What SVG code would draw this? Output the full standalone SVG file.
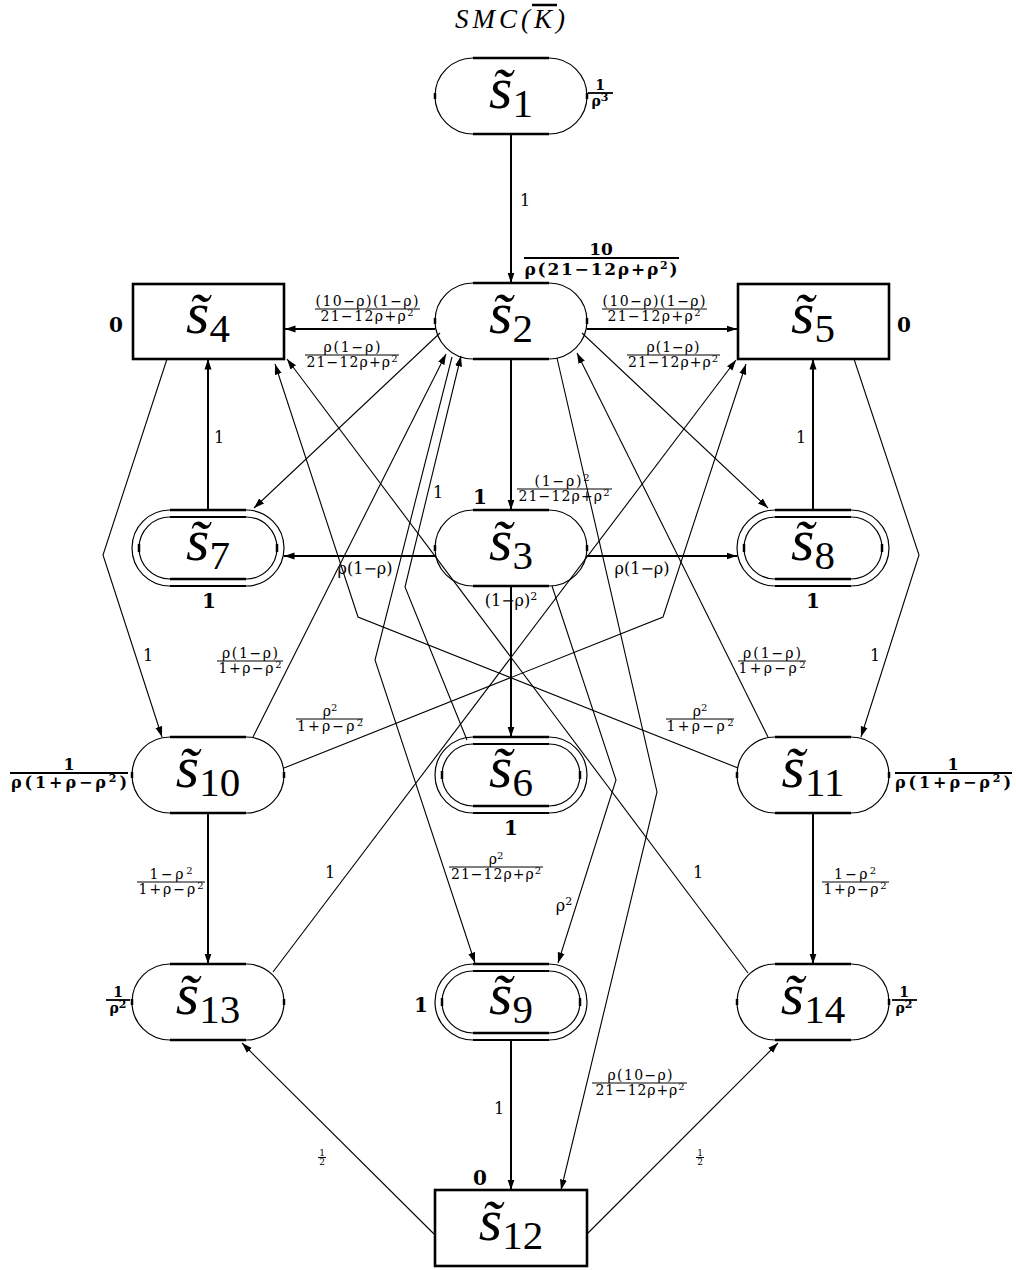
<svg xmlns="http://www.w3.org/2000/svg" width="1016" height="1270" viewBox="0 0 1016 1270">
<defs>
<marker id="ah" markerWidth="11" markerHeight="8" refX="10.5" refY="4" orient="auto" markerUnits="userSpaceOnUse"><path d="M0,0.5 L10.5,4 L0,7.5 z" fill="#000"/></marker>
</defs>
<style>
.e{fill:none;stroke:#000;stroke-width:1.1;marker-end:url(#ah)}
.t{stroke-width:2}
.st{fill:none;stroke:#000;stroke-width:1.2}
.box{fill:none;stroke:#000;stroke-width:2.6}
.seg{stroke:#000;stroke-width:2.6}
.seg2{stroke:#000;stroke-width:1.8}
.tick{stroke:#000;stroke-width:2.5}
.nl{font-family:"Liberation Serif",serif;font-size:60px;font-style:italic;text-anchor:middle}
.sub{font-style:normal;font-size:41px}
.fr text{font-family:"DejaVu Serif",serif;font-size:14px;text-anchor:middle}
.fr line{stroke:#000;stroke-width:1}
.sp{font-size:10px}
.bf text{font-family:"DejaVu Serif",serif;font-weight:bold;text-anchor:middle}
.bf line{stroke:#000;stroke-width:1.8}
.bsp{font-size:11px}
.el{font-family:"DejaVu Serif",serif;font-size:16px;text-anchor:middle}
.esp{font-size:11px}
.bv{font-family:"DejaVu Serif",serif;font-size:20px;font-weight:bold;text-anchor:middle}
</style>
<rect width="1016" height="1270" fill="#fff"/>

<g id="title">
<text x="510" y="28" font-family="Liberation Serif, serif" font-style="italic" font-size="27" text-anchor="middle" textLength="110">SMC(K)</text>
<line x1="532" y1="5" x2="557" y2="5" stroke="#000" stroke-width="2.5"/>
</g>

<g id="edges">
<path class="e t" d="M511,134 L511,283"/>
<path class="e t" d="M435,329 L285,329"/>
<path class="e t" d="M587,329 L737,329"/>
<path class="e" d="M440,333 L254,508"/>
<path class="e" d="M582,333 L768,508"/>
<path class="e t" d="M511,359 L511,510"/>
<path class="e t" d="M435,556 L284,556"/>
<path class="e t" d="M587,556 L737,556"/>
<path class="e t" d="M511,586 L511,737"/>
<path class="e t" d="M208,510 L208,359"/>
<path class="e t" d="M813,510 L813,359"/>
<path class="e" d="M167,359 L103,555 L162,737"/>
<path class="e" d="M854,359 L919,555 L861,737"/>
<path class="e" d="M253,737 L446,354"/>
<path class="e" d="M768,737 L577,353"/>
<path class="e" d="M284,768 L663,617 L746,364"/>
<path class="e" d="M738,768 L358,617 L275,364"/>
<path class="e" d="M273,972 L736,360"/>
<path class="e" d="M748,973 L287,359"/>
<path class="e" d="M452,357 L375,660 L475,963"/>
<path class="e" d="M467,740 L405,587 L461,356"/>
<path class="e" d="M552,586 L616,780 L558,963"/>
<path class="e" d="M557,358 L657,792 L561,1190"/>
<path class="e t" d="M511,1040 L511,1190"/>
<path class="e t" d="M208,813 L208,964"/>
<path class="e t" d="M813,813 L813,964"/>
<path class="e" d="M434,1234 L242,1043"/>
<path class="e" d="M587,1234 L778,1043"/>
</g>

<g id="edge-labels">
<text class="el" x="525" y="206">1</text>
<text class="el" x="219" y="443">1</text>
<text class="el" x="801" y="443">1</text>
<text class="el" x="148" y="661">1</text>
<text class="el" x="875" y="661">1</text>
<text class="el" x="438" y="498">1</text>
<text class="el" x="330" y="878">1</text>
<text class="el" x="698" y="878">1</text>
<text class="el" x="499" y="1114">1</text>
<text class="el" x="365" y="574">ρ(1−ρ)</text>
<text class="el" x="642" y="574">ρ(1−ρ)</text>
<text class="el" x="511" y="606">(1−ρ)<tspan class="esp" dy="-6">2</tspan></text>
<text class="el" x="564" y="911">ρ<tspan class="esp" dy="-6">2</tspan></text>
<g class="fr"><text x="367" y="306" textLength="103">(10−ρ)(1−ρ)</text><line x1="315" y1="309" x2="420" y2="309"/><text x="367" y="321" textLength="93">21−12ρ+ρ<tspan class="sp" dy="-5">2</tspan></text></g>
<g class="fr"><text x="654" y="306" textLength="103">(10−ρ)(1−ρ)</text><line x1="602" y1="309" x2="707" y2="309"/><text x="654" y="321" textLength="93">21−12ρ+ρ<tspan class="sp" dy="-5">2</tspan></text></g>
<g class="fr"><text x="352" y="352" textLength="57">ρ(1−ρ)</text><line x1="305" y1="355" x2="399" y2="355"/><text x="352" y="367" textLength="91">21−12ρ+ρ<tspan class="sp" dy="-5">2</tspan></text></g>
<g class="fr"><text x="673" y="352" textLength="53">ρ(1−ρ)</text><line x1="627" y1="355" x2="720" y2="355"/><text x="673" y="367" textLength="90">21−12ρ+ρ<tspan class="sp" dy="-5">2</tspan></text></g>
<g class="fr"><text x="562" y="486" textLength="55">(1−ρ)<tspan class="sp" dy="-5">2</tspan></text><line x1="517" y1="489" x2="612" y2="489"/><text x="564" y="501" textLength="91">21−12ρ+ρ<tspan class="sp" dy="-5">2</tspan></text></g>
<g class="fr"><text x="250" y="658" textLength="56">ρ(1−ρ)</text><line x1="217" y1="661" x2="283" y2="661"/><text x="250" y="673" textLength="63">1+ρ−ρ<tspan class="sp" dy="-5">2</tspan></text></g>
<g class="fr"><text x="772" y="658" textLength="58">ρ(1−ρ)</text><line x1="738" y1="661" x2="806" y2="661"/><text x="772" y="673" textLength="67">1+ρ−ρ<tspan class="sp" dy="-5">2</tspan></text></g>
<g class="fr"><text x="330" y="716">ρ<tspan class="sp" dy="-5">2</tspan></text><line x1="296" y1="719" x2="363" y2="719"/><text x="330" y="731" textLength="66">1+ρ−ρ<tspan class="sp" dy="-5">2</tspan></text></g>
<g class="fr"><text x="700" y="716">ρ<tspan class="sp" dy="-5">2</tspan></text><line x1="666" y1="719" x2="734" y2="719"/><text x="700" y="731" textLength="67">1+ρ−ρ<tspan class="sp" dy="-5">2</tspan></text></g>
<g class="fr"><text x="171" y="879" textLength="43">1−ρ<tspan class="sp" dy="-5">2</tspan></text><line x1="137" y1="882" x2="205" y2="882"/><text x="171" y="894" textLength="65">1+ρ−ρ<tspan class="sp" dy="-5">2</tspan></text></g>
<g class="fr"><text x="855" y="879" textLength="42">1−ρ<tspan class="sp" dy="-5">2</tspan></text><line x1="822" y1="882" x2="889" y2="882"/><text x="855" y="894" textLength="63">1+ρ−ρ<tspan class="sp" dy="-5">2</tspan></text></g>
<g class="fr"><text x="496" y="864">ρ<tspan class="sp" dy="-5">2</tspan></text><line x1="449" y1="867" x2="543" y2="867"/><text x="496" y="879" textLength="90">21−12ρ+ρ<tspan class="sp" dy="-5">2</tspan></text></g>
<g class="fr"><text x="640" y="1080" textLength="65">ρ(10−ρ)</text><line x1="592" y1="1083" x2="687" y2="1083"/><text x="640" y="1095" textLength="89">21−12ρ+ρ<tspan class="sp" dy="-5">2</tspan></text></g>
<g class="fr"><text x="322" y="1156" style="font-size:9px">1</text><line x1="318" y1="1157.5" x2="326" y2="1157.5"/><text x="322" y="1165" style="font-size:9px">2</text></g>
<g class="fr"><text x="700" y="1156" style="font-size:9px">1</text><line x1="696" y1="1157.5" x2="704" y2="1157.5"/><text x="700" y="1165" style="font-size:9px">2</text></g>
</g>

<g id="n1">
<rect class="st" x="435" y="58" width="152" height="76" rx="38"/>
<line class="seg" x1="473" y1="58" x2="549" y2="58"/><line class="seg" x1="473" y1="134" x2="549" y2="134"/>
<line class="tick" x1="435" y1="93" x2="435" y2="99"/><line class="tick" x1="587" y1="93" x2="587" y2="99"/>
<text class="nl" x="511" y="108">s&#x303;<tspan class="sub" dy="9">1</tspan></text>
<g class="bf"><text x="600" y="90" font-size="14">1</text><line x1="588" y1="93" x2="613" y2="93"/><text x="600" y="106" font-size="14">ρ<tspan class="bsp" dy="-5">3</tspan></text></g>
</g>

<g id="n2">
<rect class="st" x="435" y="283" width="152" height="76" rx="38"/>
<line class="seg" x1="473" y1="283" x2="549" y2="283"/><line class="seg" x1="473" y1="359" x2="549" y2="359"/>
<line class="tick" x1="435" y1="318" x2="435" y2="324"/><line class="tick" x1="587" y1="318" x2="587" y2="324"/>
<text class="nl" x="511" y="333">s&#x303;<tspan class="sub" dy="9">2</tspan></text>
<g class="bf"><text x="601" y="255" font-size="17">10</text><line x1="524" y1="258" x2="679" y2="258"/><text x="601" y="275" font-size="17" textLength="153">ρ(21−12ρ+ρ<tspan class="bsp" dy="-6">2</tspan><tspan dy="6">)</tspan></text></g>
</g>

<g id="n3">
<rect class="st" x="435" y="510" width="152" height="76" rx="38"/>
<line class="seg" x1="473" y1="510" x2="549" y2="510"/><line class="seg" x1="473" y1="586" x2="549" y2="586"/>
<line class="tick" x1="435" y1="545" x2="435" y2="551"/><line class="tick" x1="587" y1="545" x2="587" y2="551"/>
<text class="nl" x="511" y="560">s&#x303;<tspan class="sub" dy="9">3</tspan></text>
<text class="bv" x="480" y="504">1</text>
</g>

<g id="n4">
<rect class="box" x="133" y="284" width="151" height="75"/>
<text class="nl" x="208" y="333">s&#x303;<tspan class="sub" dy="9">4</tspan></text>
<text class="bv" x="116" y="332">0</text>
</g>

<g id="n5">
<rect class="box" x="738" y="284" width="151" height="75"/>
<text class="nl" x="813" y="333">s&#x303;<tspan class="sub" dy="9">5</tspan></text>
<text class="bv" x="904" y="332">0</text>
</g>

<g id="n7">
<rect class="st" x="132" y="510" width="152" height="76" rx="38"/>
<rect class="st" x="139" y="517" width="138" height="62" rx="31"/>
<line class="seg" x1="170" y1="510" x2="246" y2="510"/><line class="seg2" x1="170" y1="517" x2="246" y2="517"/>
<line class="seg" x1="170" y1="579" x2="246" y2="579"/><line class="seg2" x1="170" y1="586" x2="246" y2="586"/>
<line class="tick" x1="139" y1="544" x2="139" y2="552"/><line class="tick" x1="277" y1="544" x2="277" y2="552"/>
<text class="nl" x="208" y="560">s&#x303;<tspan class="sub" dy="9">7</tspan></text>
<text class="bv" x="209" y="608">1</text>
</g>

<g id="n8">
<rect class="st" x="737" y="510" width="152" height="76" rx="38"/>
<rect class="st" x="744" y="517" width="138" height="62" rx="31"/>
<line class="seg" x1="775" y1="510" x2="851" y2="510"/><line class="seg2" x1="775" y1="517" x2="851" y2="517"/>
<line class="seg" x1="775" y1="579" x2="851" y2="579"/><line class="seg2" x1="775" y1="586" x2="851" y2="586"/>
<line class="tick" x1="744" y1="544" x2="744" y2="552"/><line class="tick" x1="882" y1="544" x2="882" y2="552"/>
<text class="nl" x="813" y="560">s&#x303;<tspan class="sub" dy="9">8</tspan></text>
<text class="bv" x="813" y="608">1</text>
</g>

<g id="n10">
<rect class="st" x="132" y="737" width="152" height="76" rx="38"/>
<line class="seg" x1="170" y1="737" x2="246" y2="737"/><line class="seg" x1="170" y1="813" x2="246" y2="813"/>
<line class="tick" x1="132" y1="772" x2="132" y2="778"/><line class="tick" x1="284" y1="772" x2="284" y2="778"/>
<text class="nl" x="208" y="787">s&#x303;<tspan class="sub" dy="9">10</tspan></text>
<g class="bf"><text x="69" y="770" font-size="16">1</text><line x1="10" y1="773" x2="128" y2="773"/><text x="69" y="788" font-size="16" textLength="116">ρ(1+ρ−ρ<tspan class="bsp" dy="-6">2</tspan><tspan dy="6">)</tspan></text></g>
</g>

<g id="n6">
<rect class="st" x="435" y="737" width="152" height="76" rx="38"/>
<rect class="st" x="442" y="744" width="138" height="62" rx="31"/>
<line class="seg" x1="473" y1="737" x2="549" y2="737"/><line class="seg2" x1="473" y1="744" x2="549" y2="744"/>
<line class="seg" x1="473" y1="806" x2="549" y2="806"/><line class="seg2" x1="473" y1="813" x2="549" y2="813"/>
<line class="tick" x1="442" y1="771" x2="442" y2="779"/><line class="tick" x1="580" y1="771" x2="580" y2="779"/>
<text class="nl" x="511" y="787">s&#x303;<tspan class="sub" dy="9">6</tspan></text>
<text class="bv" x="511" y="835">1</text>
</g>

<g id="n11">
<rect class="st" x="737" y="737" width="152" height="76" rx="38"/>
<line class="seg" x1="775" y1="737" x2="851" y2="737"/><line class="seg" x1="775" y1="813" x2="851" y2="813"/>
<line class="tick" x1="737" y1="772" x2="737" y2="778"/><line class="tick" x1="889" y1="772" x2="889" y2="778"/>
<text class="nl" x="813" y="787">s&#x303;<tspan class="sub" dy="9">11</tspan></text>
<g class="bf"><text x="953" y="770" font-size="16">1</text><line x1="895" y1="773" x2="1012" y2="773"/><text x="953" y="788" font-size="16" textLength="116">ρ(1+ρ−ρ<tspan class="bsp" dy="-6">2</tspan><tspan dy="6">)</tspan></text></g>
</g>

<g id="n13">
<rect class="st" x="132" y="964" width="152" height="76" rx="38"/>
<line class="seg" x1="170" y1="964" x2="246" y2="964"/><line class="seg" x1="170" y1="1040" x2="246" y2="1040"/>
<line class="tick" x1="132" y1="999" x2="132" y2="1005"/><line class="tick" x1="284" y1="999" x2="284" y2="1005"/>
<text class="nl" x="208" y="1014">s&#x303;<tspan class="sub" dy="9">13</tspan></text>
<g class="bf"><text x="118" y="997" font-size="14">1</text><line x1="106" y1="1000" x2="130" y2="1000"/><text x="118" y="1013" font-size="14">ρ<tspan class="bsp" dy="-5">2</tspan></text></g>
</g>

<g id="n9">
<rect class="st" x="435" y="964" width="152" height="76" rx="38"/>
<rect class="st" x="442" y="971" width="138" height="62" rx="31"/>
<line class="seg" x1="473" y1="964" x2="549" y2="964"/><line class="seg2" x1="473" y1="971" x2="549" y2="971"/>
<line class="seg" x1="473" y1="1033" x2="549" y2="1033"/><line class="seg2" x1="473" y1="1040" x2="549" y2="1040"/>
<line class="tick" x1="442" y1="998" x2="442" y2="1006"/><line class="tick" x1="580" y1="998" x2="580" y2="1006"/>
<text class="nl" x="511" y="1014">s&#x303;<tspan class="sub" dy="9">9</tspan></text>
<text class="bv" x="421" y="1012">1</text>
</g>

<g id="n14">
<rect class="st" x="737" y="964" width="152" height="76" rx="38"/>
<line class="seg" x1="775" y1="964" x2="851" y2="964"/><line class="seg" x1="775" y1="1040" x2="851" y2="1040"/>
<line class="tick" x1="737" y1="999" x2="737" y2="1005"/><line class="tick" x1="889" y1="999" x2="889" y2="1005"/>
<text class="nl" x="813" y="1014">s&#x303;<tspan class="sub" dy="9">14</tspan></text>
<g class="bf"><text x="904" y="997" font-size="14">1</text><line x1="892" y1="1000" x2="917" y2="1000"/><text x="904" y="1013" font-size="14">ρ<tspan class="bsp" dy="-5">2</tspan></text></g>
</g>

<g id="n12">
<rect class="box" x="435" y="1190" width="152" height="76"/>
<text class="nl" x="511" y="1240">s&#x303;<tspan class="sub" dy="9">12</tspan></text>
<text class="bv" x="480" y="1185">0</text>
</g>
</svg>
